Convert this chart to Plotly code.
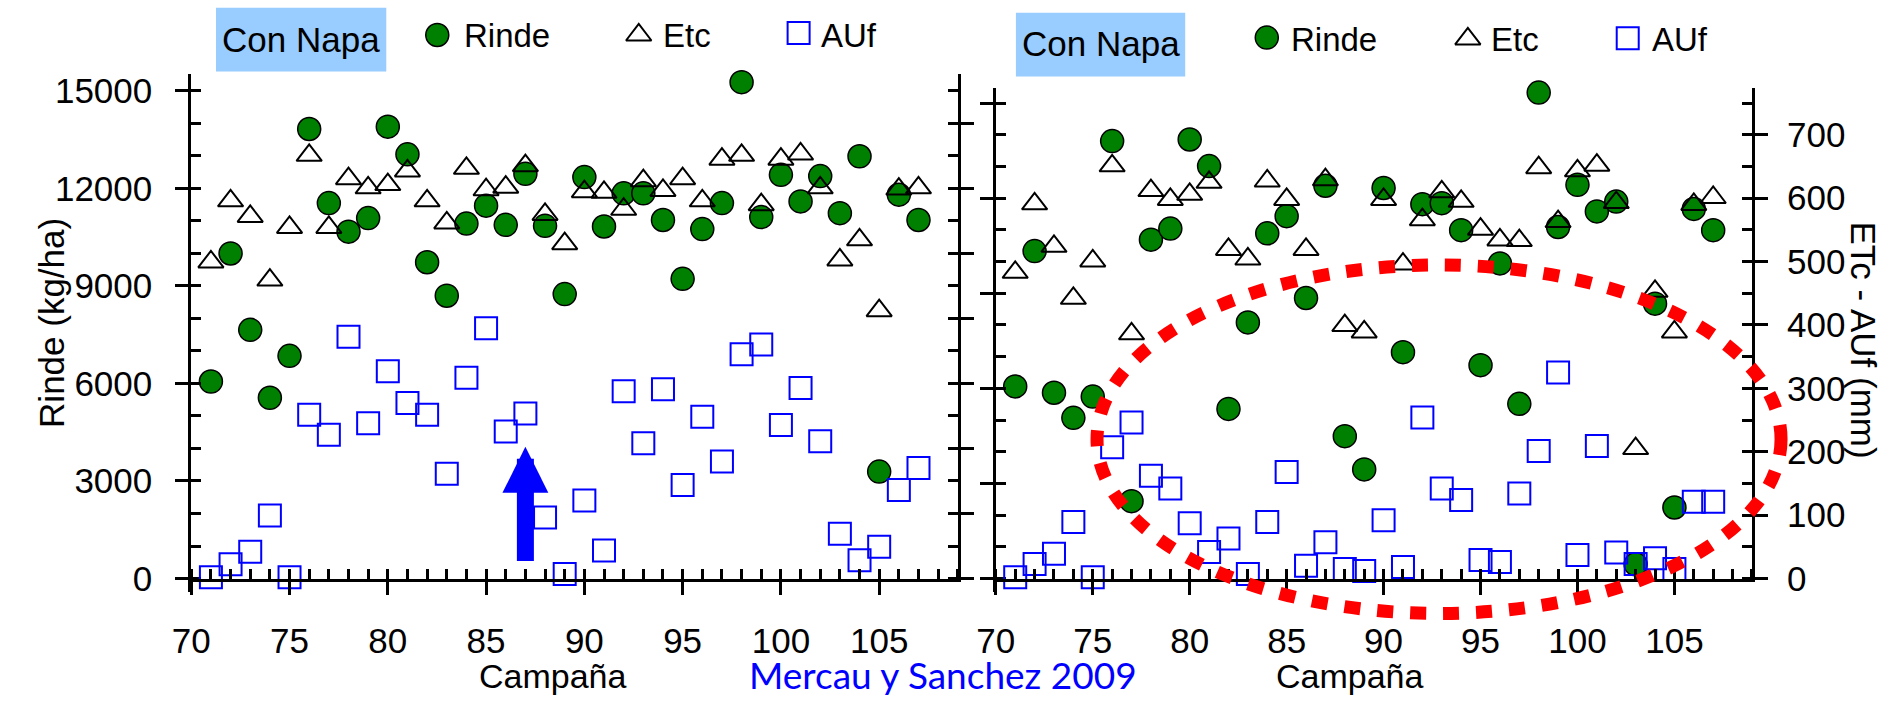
import plotly.graph_objects as go

W, H = 1897, 713
FONT = "Liberation Sans, Arial, sans-serif"

# ---- data -------------------------------------------------------------
campana = list(range(71, 108))

# Con Napa, left panel: Rinde in kg/ha, Etc and AUf in mm
rinde_izq = [6060, 10000, 7650, 5560, 6850, 13830, 11550, 10670, 11090, 13900,
             13050, 9730, 8700, 10920, 11470, 10880, 12450, 10850, 8750, 12350,
             10830, 11850, 11850, 11030, 9220, 10750, 11550, 15270, 11120, 12420,
             11600, 12380, 11240, 12990, 3290, 11810, 11030]
etc_izq = [487, 581, 557, 459, 540, 651, 540, 615, 601, 606,
           627, 581, 547, 631, 598, 602, 635, 560, 515, 595,
           594, 568, 612, 597, 615, 581, 645, 651, 575, 645,
           653, 601, 490, 521, 412, 599, 601]
auf_izq = [2, 22, 41, 97, 2, 252, 221, 372, 239, 319,
           270, 252, 161, 309, 385, 226, 254, 94, 7, 120,
           43, 288, 208, 291, 144, 249, 180, 345, 360, 236,
           293, 211, 69, 28, 49, 136, 170]

# Con Napa, right panel
rinde_der = [6060, 10330, 5860, 5070, 5740, 13800, 2440, 10690, 11040, 13850,
             13010, 5350, 8080, 10890, 11430, 8850, 12390, 4490, 3440, 12320,
             7140, 11810, 11840, 10990, 6730, 9940, 5510, 15330, 11090, 12420,
             11580, 11890, 450, 8670, 2240, 11660, 10990]
etc_der = [483, 591, 524, 442, 501, 651, 386, 612, 598, 606,
           625, 519, 504, 627, 598, 519, 629, 399, 389, 598,
           496, 566, 610, 595, 551, 534, 533, 648, 563, 643,
           652, 593, 205, 453, 389, 590, 601]
auf_der = [2, 23, 39, 89, 2, 207, 246, 162, 142, 87,
           42, 63, 7, 89, 168, 20, 57, 15, 12, 92,
           18, 254, 142, 124, 29, 26, 134, 201, 325, 37,
           209, 41, 23, 32, 15, 121, 121]

# highlighted campaign (arrow) and the region circled on the right panel
flecha_campana = 87
flecha_kg = (490, 4050)
elipse_centro = (92.86, 219.7)     # campaña, mm
elipse_semiejes = (17.64, 274.8)   # campaña, mm

# ---- geometry (pixels, paper has no margins) --------------------------
LEFT_X = (174.0, 948.3)
RIGHT_X = (986.7, 1750.5)
BASE_Y = 594.0
LEFT_TOP = 74.3
RIGHT_TOP = 88.3
AXIS_BOTTOM = 608.0
KG_PER_MM = 20
X_RANGE = [70, 109]
left_kg_px = 33.49 / 1000
right_kg_px = 32.66 / 1000


def fx(p):
    return p / W


def fy(p):
    return 1 - p / H


left_kg_range = [-(AXIS_BOTTOM - BASE_Y) / left_kg_px, (BASE_Y - LEFT_TOP) / left_kg_px]
left_mm_range = [0, left_kg_range[1] / KG_PER_MM]
right_kg_range = [-(AXIS_BOTTOM - BASE_Y) / right_kg_px, (BASE_Y - RIGHT_TOP) / right_kg_px]
right_mm_range = [0, right_kg_range[1] / KG_PER_MM]

tick_font = dict(family=FONT, size=35, color="black")


def axis(rng, domain, dtick, minor_dtick, tick0=0, labels=True, **kw):
    d = dict(range=rng, domain=domain, showline=True, linecolor="black", linewidth=3,
             ticks="outside", ticklen=13, tickwidth=3, tickcolor="black",
             tick0=tick0, dtick=dtick, tickformat="d", showgrid=False, zeroline=False,
             showticklabels=labels, tickfont=tick_font, fixedrange=True,
             minor=dict(ticks="inside", ticklen=10, tickwidth=3, tickcolor="black",
                        tick0=tick0, dtick=minor_dtick, showgrid=False))
    d.update(kw)
    return d


rinde_marker = dict(symbol="circle", size=23, color="#008000",
                    line=dict(color="black", width=1.5))
etc_marker = dict(symbol="triangle-up-open", size=22, color="black",
                  line=dict(color="black", width=2))
auf_marker = dict(symbol="square-open", size=22, color="#0000FF",
                  line=dict(color="#0000FF", width=2))

fig = go.Figure()

for xa, ya_kg, ya_mm, r, e, a in [("x", "y", "y2", rinde_izq, etc_izq, auf_izq),
                                   ("x2", "y3", "y4", rinde_der, etc_der, auf_der)]:
    fig.add_trace(go.Scatter(x=campana, y=r, xaxis=xa, yaxis=ya_kg, mode="markers",
                             marker=rinde_marker, cliponaxis=False, name="Rinde"))
    fig.add_trace(go.Scatter(x=campana, y=e, xaxis=xa, yaxis=ya_mm, mode="markers",
                             marker=etc_marker, cliponaxis=False, name="Etc"))
    fig.add_trace(go.Scatter(x=campana, y=a, xaxis=xa, yaxis=ya_mm, mode="markers",
                             marker=auf_marker, cliponaxis=False, name="AUf"))

# legend keys, placed on a pixel-frame helper axis
legend_layout = [
    dict(box=(199, 6, 371, 71.5), title=(285, 38.5),
         keys=[(422.5, 34), (626, 34), (787.5, 32)],
         texts=[(447, 34.5), (648, 34.5), (808, 34.5)]),
    dict(box=(1007, 11, 1178, 76.7), title=(1092.7, 43),
         keys=[(1260.4, 36.7), (1463.5, 38), (1625, 37.3)],
         texts=[(1283, 38.5), (1485, 38.5), (1647, 38.5)]),
]
legend_names = ["Rinde", "Etc", "AUf"]
legend_markers = [rinde_marker, etc_marker, auf_marker]

annotations = []
shapes = []
for lg in legend_layout:
    x0, y0, x1, y1 = lg["box"]
    shapes.append(dict(type="rect", xref="paper", yref="paper",
                       x0=fx(x0), x1=fx(x1), y0=fy(y1), y1=fy(y0),
                       fillcolor="#99CCFF", line=dict(width=0), layer="below"))
    annotations.append(dict(text="Con Napa", xref="paper", yref="paper",
                            x=fx(lg["title"][0]), y=fy(lg["title"][1]),
                            xanchor="center", yanchor="middle", showarrow=False,
                            font=dict(family=FONT, size=35, color="black")))
    for (kx, ky), (tx, ty), nm, mk in zip(lg["keys"], lg["texts"], legend_names, legend_markers):
        fig.add_trace(go.Scatter(x=[kx], y=[ky], xaxis="x3", yaxis="y5", mode="markers",
                                 marker=mk, cliponaxis=False, hoverinfo="skip"))
        annotations.append(dict(text=nm, xref="paper", yref="paper",
                                x=fx(tx), y=fy(ty), xanchor="left", yanchor="middle",
                                showarrow=False,
                                font=dict(family=FONT, size=33, color="black")))

# axis titles and captions
annotations += [
    dict(text="Rinde (kg/ha)", xref="paper", yref="paper", x=fx(33), y=fy(331),
         xanchor="center", yanchor="middle", textangle=-90, showarrow=False,
         font=dict(family=FONT, size=35, color="black")),
    dict(text="ETc - AUf (mm)", xref="paper", yref="paper", x=fx(1863), y=fy(348),
         xanchor="center", yanchor="middle", textangle=90, showarrow=False,
         font=dict(family=FONT, size=35, color="black")),
    dict(text="Campaña", xref="paper", yref="paper", x=fx(539.5), y=fy(694),
         xanchor="center", yanchor="middle", showarrow=False,
         font=dict(family=FONT, size=34, color="black")),
    dict(text="Campaña", xref="paper", yref="paper", x=fx(1344), y=fy(694),
         xanchor="center", yanchor="middle", showarrow=False,
         font=dict(family=FONT, size=34, color="black")),
    dict(text="Mercau y Sanchez 2009", xref="paper", yref="paper", x=fx(933), y=fy(693),
         xanchor="center", yanchor="middle", showarrow=False,
         font=dict(family="Lato, sans-serif", size=37, color="#0000FF")),
    # blue arrow marking campaign 87
    dict(text="", xref="x", yref="y", x=flecha_campana, y=flecha_kg[1],
         axref="x", ayref="y", ax=flecha_campana, ay=flecha_kg[0],
         showarrow=True, arrowhead=2, arrowsize=0.54, arrowwidth=17,
         arrowcolor="#0000FF", standoff=0),
]


# dotted ellipse on the right panel, converted from its axes to paper units
def right_to_paper(cx, cy):
    px = RIGHT_X[0] + (cx - X_RANGE[0]) / (X_RANGE[1] - X_RANGE[0]) * (RIGHT_X[1] - RIGHT_X[0])
    py = BASE_Y - (cy - right_mm_range[0]) / (right_mm_range[1] - right_mm_range[0]) * (BASE_Y - RIGHT_TOP)
    return fx(px), fy(py)


ex0, ey0 = right_to_paper(elipse_centro[0] - elipse_semiejes[0], elipse_centro[1] - elipse_semiejes[1])
ex1, ey1 = right_to_paper(elipse_centro[0] + elipse_semiejes[0], elipse_centro[1] + elipse_semiejes[1])
shapes.append(dict(type="circle", xref="paper", yref="paper", x0=ex0, x1=ex1, y0=ey0, y1=ey1,
                   line=dict(color="#FF0000", width=13, dash="16px,17px"), layer="above"))

fig.update_layout(
    width=W, height=H, margin=dict(l=0, r=0, t=0, b=0, pad=0),
    paper_bgcolor="white", plot_bgcolor="rgba(0,0,0,0)", showlegend=False,
    font=dict(family=FONT, color="black"),
    xaxis=axis(X_RANGE, [fx(LEFT_X[0]), fx(LEFT_X[1])], 5, 1, tick0=70,
               anchor="y2", ticklabelstandoff=16),
    yaxis=axis(left_kg_range, [fy(AXIS_BOTTOM), fy(LEFT_TOP)], 3000, 1000,
               anchor="x", side="left", ticklabelstandoff=16),
    yaxis2=axis(left_mm_range, [fy(BASE_Y), fy(LEFT_TOP)], 100, 50, labels=False,
                anchor="x", side="right"),
    xaxis2=axis(X_RANGE, [fx(RIGHT_X[0]), fx(RIGHT_X[1])], 5, 1, tick0=70,
                anchor="y4", ticklabelstandoff=16),
    yaxis3=axis(right_kg_range, [fy(AXIS_BOTTOM), fy(RIGHT_TOP)], 3000, 1000, labels=False,
                anchor="x2", side="left"),
    yaxis4=axis(right_mm_range, [fy(BASE_Y), fy(RIGHT_TOP)], 100, 50,
                anchor="x2", side="right", ticklabelstandoff=12),
    xaxis3=dict(domain=[0, 1], range=[0, W], visible=False, fixedrange=True, anchor="y5"),
    yaxis5=dict(domain=[0, 1], range=[H, 0], visible=False, fixedrange=True, anchor="x3"),
    annotations=annotations,
    shapes=shapes,
)

fig.write_html("out.html", config={"displayModeBar": False})
